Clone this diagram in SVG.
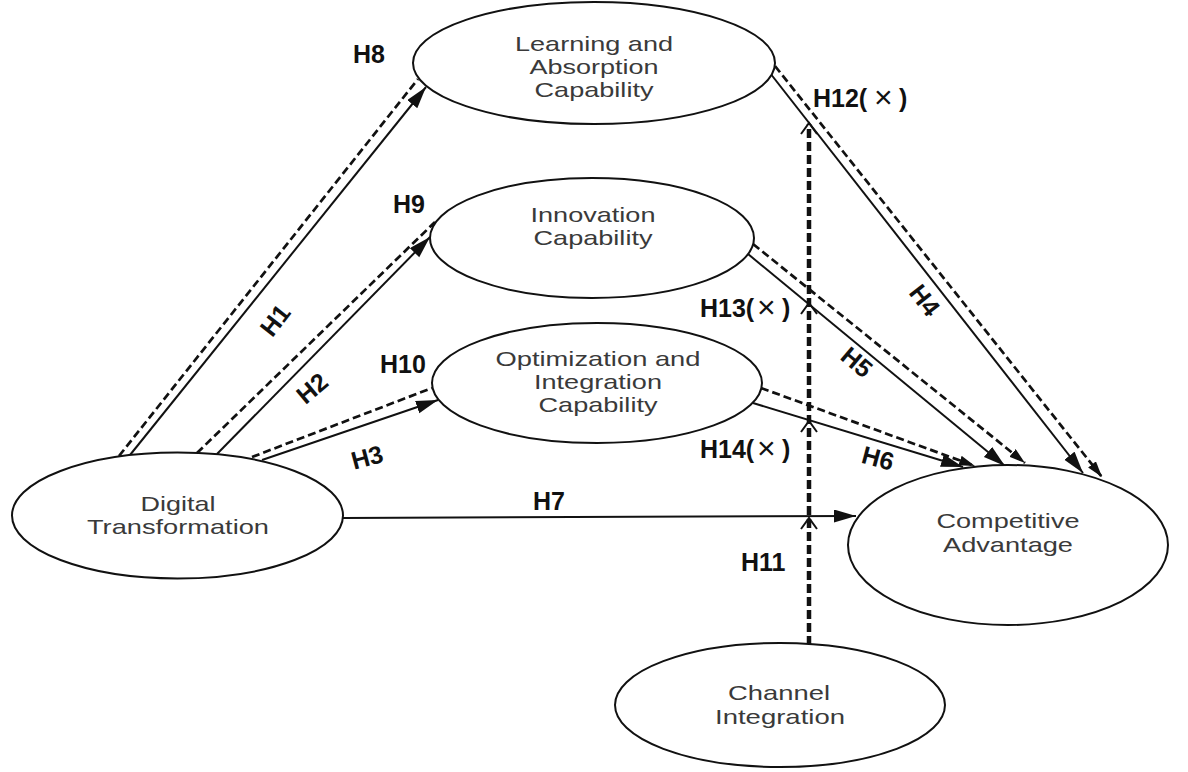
<svg xmlns="http://www.w3.org/2000/svg" width="1188" height="772" viewBox="0 0 1188 772">
  <style>
    .node { fill: #ffffff; stroke: #111111; stroke-width: 2; }
    .nt { font-family: "Liberation Sans", Arial, sans-serif; font-size: 21px; fill: #3a3a3a; text-anchor: middle; }
    .lbl { font-family: "Liberation Sans", Arial, sans-serif; font-size: 25px; font-weight: bold; fill: #111111; }
    .lblc { font-family: "Liberation Sans", Arial, sans-serif; font-size: 25px; font-weight: bold; fill: #111111; text-anchor: middle; }
    .x { font-weight: normal; font-size: 32px; }
    .solid { fill: none; stroke: #111111; stroke-width: 2; }
    .dash { fill: none; stroke: #111111; stroke-width: 2.7; stroke-dasharray: 8 4; }
    .mod { fill: none; stroke: #111111; stroke-width: 4.5; stroke-dasharray: 9 4; }
    .chev { fill: none; stroke: #111111; stroke-width: 2; }
  </style>
  <defs>
    <marker id="arrow" markerUnits="userSpaceOnUse" markerWidth="24" markerHeight="14" refX="22" refY="6.5" orient="auto">
      <path d="M0,0 L22,6.5 L0,13 z" fill="#111111"/>
    </marker>
    <marker id="arrowSm" markerUnits="userSpaceOnUse" markerWidth="18" markerHeight="12" refX="16" refY="5" orient="auto">
      <path d="M0,0 L16,5 L0,10 z" fill="#111111"/>
    </marker>
  </defs>

  <rect width="1188" height="772" fill="#ffffff"/>

  <!-- connectors -->
  <g id="connectors">
    <!-- H1 / H8 -->
    <line class="solid" x1="130" y1="455" x2="426" y2="87" marker-end="url(#arrow)"/>
    <line class="dash" x1="119" y1="456" x2="418" y2="79"/>
    <!-- H2 / H9 -->
    <line class="solid" x1="217" y1="454" x2="430" y2="237" marker-end="url(#arrow)"/>
    <line class="dash" x1="197" y1="453" x2="435" y2="222"/>
    <!-- H3 / H10 -->
    <line class="solid" x1="262" y1="460" x2="438" y2="400" marker-end="url(#arrow)"/>
    <line class="dash" x1="252" y1="457" x2="432" y2="388"/>
    <!-- H7 -->
    <line class="solid" x1="343" y1="518" x2="856" y2="516" marker-end="url(#arrow)"/>
    <!-- H4 / H12 -->
    <line class="solid" x1="770" y1="73" x2="1083" y2="473" marker-end="url(#arrow)"/>
    <line class="dash" x1="775" y1="66" x2="1102" y2="477" marker-end="url(#arrowSm)"/>
    <!-- H5 / H13 -->
    <line class="solid" x1="748" y1="254" x2="1005" y2="466" marker-end="url(#arrow)"/>
    <line class="dash" x1="753" y1="244" x2="1025" y2="463" marker-end="url(#arrowSm)"/>
    <!-- H6 / H14 -->
    <line class="solid" x1="753" y1="403" x2="963" y2="467" marker-end="url(#arrow)"/>
    <line class="dash" x1="761" y1="388" x2="975" y2="466" marker-end="url(#arrowSm)"/>
    <!-- moderator path H11 -->
    <line class="mod" x1="809" y1="645" x2="809" y2="124"/>
    <path class="chev" d="M801,134 L809,123 L817,134"/>
    <path class="chev" d="M801,314 L809,303 L817,314"/>
    <path class="chev" d="M801,432 L809,421 L817,432"/>
    <path class="chev" d="M801,529 L809,518 L817,529"/>
  </g>

  <!-- nodes -->
  <g id="node-learning">
    <ellipse class="node" cx="594" cy="63" rx="181" ry="61"/>
    <text class="nt" x="594" y="51" textLength="158" lengthAdjust="spacingAndGlyphs">Learning and</text>
    <text class="nt" x="594" y="74" textLength="129" lengthAdjust="spacingAndGlyphs">Absorption</text>
    <text class="nt" x="594" y="97" textLength="119" lengthAdjust="spacingAndGlyphs">Capability</text>
  </g>
  <g id="node-innovation">
    <ellipse class="node" cx="592" cy="238" rx="162" ry="60"/>
    <text class="nt" x="593" y="222" textLength="125" lengthAdjust="spacingAndGlyphs">Innovation</text>
    <text class="nt" x="593" y="245" textLength="119" lengthAdjust="spacingAndGlyphs">Capability</text>
  </g>
  <g id="node-optimization">
    <ellipse class="node" cx="597" cy="383" rx="165" ry="60"/>
    <text class="nt" x="598" y="366" textLength="205" lengthAdjust="spacingAndGlyphs">Optimization and</text>
    <text class="nt" x="598" y="389" textLength="128" lengthAdjust="spacingAndGlyphs">Integration</text>
    <text class="nt" x="598" y="412" textLength="119" lengthAdjust="spacingAndGlyphs">Capability</text>
  </g>
  <g id="node-digital">
    <ellipse class="node" cx="177.5" cy="515.5" rx="165.5" ry="63"/>
    <text class="nt" x="178" y="511" textLength="75" lengthAdjust="spacingAndGlyphs">Digital</text>
    <text class="nt" x="178" y="534" textLength="182" lengthAdjust="spacingAndGlyphs">Transformation</text>
  </g>
  <g id="node-competitive">
    <ellipse class="node" cx="1008" cy="545" rx="160" ry="80"/>
    <text class="nt" x="1008" y="528" textLength="143" lengthAdjust="spacingAndGlyphs">Competitive</text>
    <text class="nt" x="1008" y="552" textLength="130" lengthAdjust="spacingAndGlyphs">Advantage</text>
  </g>
  <g id="node-channel">
    <ellipse class="node" cx="780" cy="705" rx="165" ry="62"/>
    <text class="nt" x="779" y="700" textLength="102" lengthAdjust="spacingAndGlyphs">Channel</text>
    <text class="nt" x="780" y="724" textLength="130" lengthAdjust="spacingAndGlyphs">Integration</text>
  </g>

  <!-- hypothesis labels -->
  <g id="labels">
    <text class="lbl" x="353" y="63">H8</text>
    <text class="lbl" x="393" y="213">H9</text>
    <text class="lbl" x="380" y="373">H10</text>
    <text class="lbl" x="533" y="510">H7</text>
    <text class="lbl" x="741" y="571">H11</text>
    <text class="lbl" x="813" y="107">H12(<tspan class="x" x="874" dy="1">×</tspan><tspan x="899" dy="-1">)</tspan></text>
    <text class="lbl" x="700" y="317">H13(<tspan class="x" x="757" dy="1">×</tspan><tspan x="782" dy="-1">)</tspan></text>
    <text class="lbl" x="700" y="458">H14(<tspan class="x" x="757" dy="1">×</tspan><tspan x="782" dy="-1">)</tspan></text>
    <text class="lblc" transform="translate(275,320) rotate(-52)" x="0" y="9">H1</text>
    <text class="lblc" transform="translate(312,388) rotate(-40)" x="0" y="9">H2</text>
    <text class="lblc" transform="translate(367,457) rotate(-15)" x="0" y="9">H3</text>
    <text class="lblc" transform="translate(925,300) rotate(52)" x="0" y="9">H4</text>
    <text class="lblc" transform="translate(857,362) rotate(40)" x="0" y="9">H5</text>
    <text class="lblc" transform="translate(878,458) rotate(15)" x="0" y="9">H6</text>
  </g>
</svg>
